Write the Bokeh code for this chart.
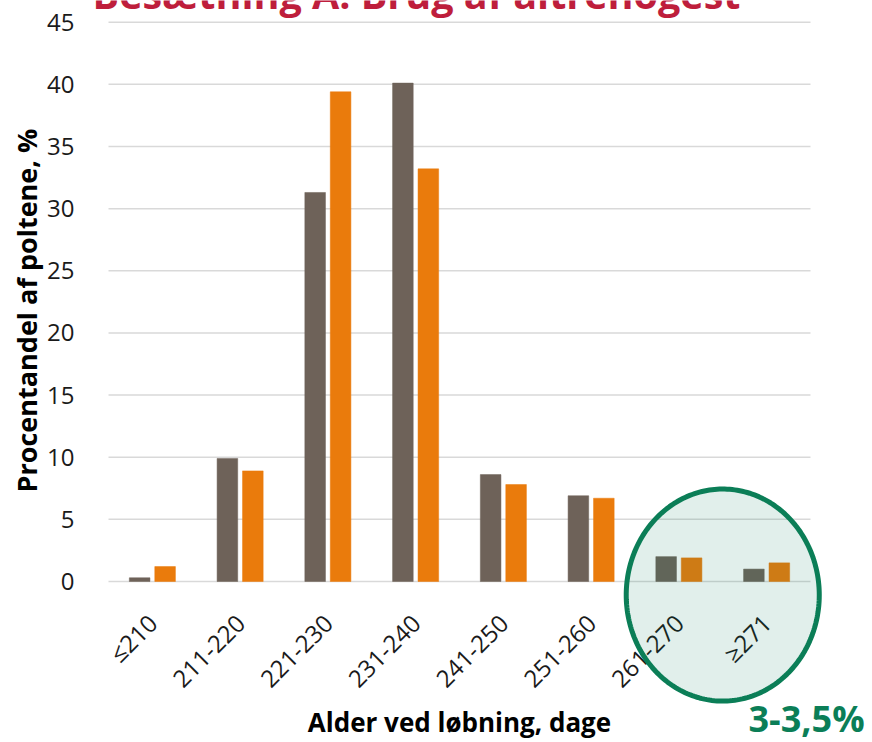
import math
import numpy as np
from bokeh.plotting import figure
from bokeh.models import ColumnDataSource, Range1d, FixedTicker, PolyAnnotation, Label
from bokeh.embed import file_html
from bokeh.resources import INLINE

# ---- data ----
categories = ["≤210", "211-220", "221-230", "231-240", "241-250", "251-260", "261-270", "≥271"]
grey_vals = [0.3, 9.9, 31.3, 40.1, 8.6, 6.9, 2.0, 1.0]
orange_vals = [1.2, 8.9, 39.4, 33.2, 7.8, 6.7, 1.9, 1.5]
y_ticks = [0, 5, 10, 15, 20, 25, 30, 35, 40, 45]
title_text = "Besætning A: Brug af altrenogest"
x_title = "Alder ved løbning, dage"
y_title = "Procentandel af poltene, %"
highlight_cats = ["261-270", "≥271"]
highlight_text = "3-3,5%"

GREY = "#6E6259"
ORANGE = "#EA7B0C"
GREEN = "#0B7E57"
RED = "#BE1E3C"
GRID = "#D9D9D9"
FONT = "Open Sans"

n = len(categories)
centers = [i + 0.5 for i in range(n)]          # category slots on a numeric axis
src = ColumnDataSource(dict(
    xg=[c - 0.145 for c in centers], xo=[c + 0.145 for c in centers],
    grey=grey_vals, orange=orange_vals))
grid_src = ColumnDataSource(dict(y=y_ticks, x0=[0] * len(y_ticks), x1=[n] * len(y_ticks)))

# frame covers the whole canvas; axes are pinned to the data origin
p = figure(
    x_range=Range1d(-1.2308, 8.7066),
    y_range=Range1d(-12.953, 46.746),
    width=872, height=742,
    output_backend="svg", toolbar_location=None,
    min_border_left=0, min_border_right=0,
    min_border_top=0, min_border_bottom=0,
)
p.outline_line_color = None
p.background_fill_color = "white"
p.xgrid.grid_line_color = None
p.ygrid.grid_line_color = None

p.segment(x0="x0", x1="x1", y0="y", y1="y", source=grid_src,
          line_color=GRID, line_width=1.5)

p.vbar(x="xg", top="grey", width=0.235, source=src,
       fill_color=GREY, line_color=GREY, line_width=0.5)
p.vbar(x="xo", top="orange", width=0.235, source=src,
       fill_color=ORANGE, line_color=ORANGE, line_width=0.5)

# axes
p.yaxis.ticker = FixedTicker(ticks=y_ticks)
p.xaxis.ticker = FixedTicker(ticks=centers)
p.xaxis.major_label_overrides = {c: lab for c, lab in zip(centers, categories)}
for ax in (p.xaxis[0], p.yaxis[0]):
    ax.axis_line_color = None
    ax.major_tick_line_color = None
    ax.minor_tick_line_color = None
    ax.major_label_text_font = FONT
    ax.major_label_text_font_size = "24px"
    ax.major_label_text_color = "#1a1a1a"

p.yaxis.fixed_location = 0
p.yaxis.major_label_standoff = 28

p.xaxis.fixed_location = 0
p.xaxis.major_label_orientation = math.pi / 4
p.xaxis.major_label_standoff = 31

# axis titles (centred on the plot area like the reference)
p.add_layout(Label(x=-0.93, y=21.8, text=y_title, angle=math.pi / 2,
                   text_font=FONT, text_font_size="27px", text_font_style="bold",
                   text_color="#000000", text_align="center", text_baseline="middle"))
p.add_layout(Label(x=n / 2, y=-11.30, text=x_title,
                   text_font=FONT, text_font_size="26px", text_font_style="bold",
                   text_color="#000000", text_align="center", text_baseline="middle"))

i0 = categories.index(highlight_cats[0])
i1 = categories.index(highlight_cats[1])
cx = (i0 + i1 + 1) / 2.0
cy = -1.09

p.add_layout(Label(x=cx + 0.955, y=-11.05, text=highlight_text,
                   text_font=FONT, text_font_size="36px", text_font_style="bold",
                   text_color=GREEN, text_align="center", text_baseline="middle"))

p.add_layout(Label(x=3.51, y=47.25, text=title_text,
                   text_font=FONT, text_font_size="39.5px", text_font_style="bold",
                   text_color=RED, text_align="center", text_baseline="alphabetic"))

# highlight ellipse around the last two categories
t = np.linspace(0, 2 * np.pi, 240)
ell = PolyAnnotation(
    xs=list(cx + 1.10 * np.cos(t)), ys=list(cy + 8.53 * np.sin(t)),
    xs_units="data", ys_units="data",
    fill_color=GREEN, fill_alpha=0.12,
    line_color=GREEN, line_alpha=1.0, line_width=5, level="annotation",
)
p.add_layout(ell)

open("out.html", "w").write(file_html(p, INLINE))
